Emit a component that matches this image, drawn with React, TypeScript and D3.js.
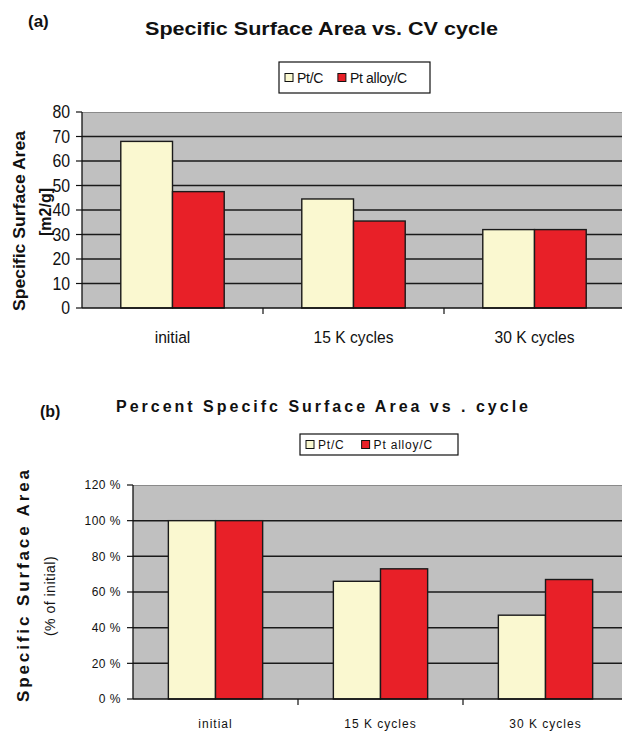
import * as d3 from "d3";

const categories = ["initial", "15 K cycles", "30 K cycles"];
const seriesNames = ["Pt/C", "Pt alloy/C"];
const seriesColors = ["#FAF8D0", "#E82028"];

// (a) specific surface area, m2/g
const areaPtC = [68, 44.5, 32];
const areaPtAlloy = [47.5, 35.5, 32];
const areaTicks = [0, 10, 20, 30, 40, 50, 60, 70, 80];

// (b) percent of initial
const pctPtC = [1.0, 0.66, 0.47];
const pctPtAlloy = [1.0, 0.73, 0.67];
const pctTicks = [0, 0.2, 0.4, 0.6, 0.8, 1.0, 1.2];

const FONT = "'Liberation Sans', Arial, sans-serif";

interface PanelProps {
  values: number[][];
  ticks: number[];
  yMax: number;
  left: number;
  right: number;
  top: number;
  bottom: number;
  tickFmt: (v: number) => string;
  tickSize: number;
  tickSpacing: number;
  tickSqueeze: number;
  xLabelY: number;
  xSize: number;
  xSpacing: number;
  xSqueeze: number;
}

function Panel(p: PanelProps) {
  const x = d3.scaleBand<string>().domain(categories).range([p.left, p.right]).padding(0);
  const xs = d3
    .scaleBand<string>()
    .domain(seriesNames)
    .range([0, x.bandwidth()])
    .paddingInner(0)
    .paddingOuter(0.75);
  const y = d3.scaleLinear().domain([0, p.yMax]).range([p.bottom, p.top]);

  return (
    <g>
      <rect x={p.left} y={p.top} width={622 - p.left} height={p.bottom - p.top} fill="#C0C0C0" />
      <line x1={p.left} x2={622} y1={p.top + 0.5} y2={p.top + 0.5} stroke="#8a8a8a" strokeWidth={1.2} />
      {p.ticks.slice(1, -1).map((t) => (
        <line key={t} x1={p.left} x2={622} y1={y(t)} y2={y(t)} stroke="#1a1a1a" strokeWidth={1.5} />
      ))}
      {categories.map((c, i) =>
        seriesNames.map((s, j) => (
          <rect
            key={c + s}
            x={(x(c) as number) + (xs(s) as number)}
            y={y(p.values[j][i])}
            width={xs.bandwidth()}
            height={p.bottom - y(p.values[j][i])}
            fill={seriesColors[j]}
            stroke="#1a1a1a"
            strokeWidth={1.4}
          />
        ))
      )}
      <line x1={p.left} x2={p.left} y1={p.top} y2={p.bottom} stroke="#111" strokeWidth={1.3} />
      <line x1={p.left} x2={622} y1={p.bottom} y2={p.bottom} stroke="#111" strokeWidth={1.3} />
      {p.ticks.map((t) => (
        <g key={t}>
          <line x1={p.left - 6} x2={p.left} y1={y(t)} y2={y(t)} stroke="#111" strokeWidth={1.2} />
          <text
            transform={`translate(${p.left - 12},${y(t)}) scale(${p.tickSqueeze},1)`}
            dy="0.36em"
            textAnchor="end"
            fontFamily={FONT}
            fontSize={p.tickSize}
            letterSpacing={p.tickSpacing}
            fill="#111"
          >
            {p.tickFmt(t)}
          </text>
        </g>
      ))}
      {categories.map((c, i) => (
        <g key={c}>
          {i > 0 && (
            <line x1={x(c)} x2={x(c)} y1={p.bottom} y2={p.bottom + 6} stroke="#111" strokeWidth={1.2} />
          )}
          <text
            transform={`translate(${(x(c) as number) + x.bandwidth() / 2},${p.xLabelY}) scale(${p.xSqueeze},1)`}
            dy="0.36em"
            textAnchor="middle"
            fontFamily={FONT}
            fontSize={p.xSize}
            letterSpacing={p.xSpacing}
            fill="#111"
          >
            {c}
          </text>
        </g>
      ))}
    </g>
  );
}

function Legend({ x0, y0, w, h, size, spacing }: { x0: number; y0: number; w: number; h: number; size: number; spacing: number }) {
  const cy = y0 + h / 2;
  const offsets = [6, 0.39 * w];
  return (
    <g>
      <rect x={x0} y={y0} width={w} height={h} fill="#fff" stroke="#111" strokeWidth={1.2} />
      {seriesNames.map((s, i) => (
        <g key={s}>
          <rect x={x0 + offsets[i]} y={cy - 4} width={8} height={8} fill={seriesColors[i]} stroke="#111" strokeWidth={1} />
          <text
            x={x0 + offsets[i] + 12}
            y={cy}
            dy="0.36em"
            fontFamily={FONT}
            fontSize={size}
            letterSpacing={spacing}
            fill="#111"
          >
            {s}
          </text>
        </g>
      ))}
    </g>
  );
}

export default function App() {
  return (
    <svg width={622} height={732} style={{ position: "absolute", left: 0, top: 0, background: "#fff" }}>
      {/* panel (a) */}
      <text x={28} y={27} fontFamily={FONT} fontWeight="bold" fontSize={17} fill="#111">(a)</text>
      <text x={145} y={35} fontFamily={FONT} fontWeight="bold" fontSize={19} textLength={353} lengthAdjust="spacingAndGlyphs" fill="#111">
        Specific Surface Area vs. CV cycle
      </text>
      <Legend x0={279} y0={62} w={151} h={31} size={14} spacing={-0.3} />
      <Panel
        values={[areaPtC, areaPtAlloy]}
        ticks={areaTicks}
        yMax={80}
        left={82}
        right={625}
        top={112}
        bottom={308}
        tickFmt={(v) => String(v)}
        tickSize={18}
        tickSpacing={0}
        tickSqueeze={0.88}
        xLabelY={337}
        xSize={17}
        xSpacing={0}
        xSqueeze={0.92}
      />
      <text
        transform="translate(25,221) rotate(-90)"
        textAnchor="middle"
        fontFamily={FONT}
        fontWeight="bold"
        fontSize={16}
        textLength={180}
        lengthAdjust="spacingAndGlyphs"
        fill="#111"
      >
        Specific Surface Area
      </text>
      <text
        transform="translate(51,212) rotate(-90)"
        textAnchor="middle"
        fontFamily={FONT}
        fontWeight="bold"
        fontSize={16}
        fill="#111"
      >
        [m2/g]
      </text>

      {/* panel (b) */}
      <text x={40} y={417} fontFamily={FONT} fontWeight="bold" fontSize={16} fill="#111">(b)</text>
      <text x={116} y={412} fontFamily={FONT} fontWeight="bold" fontSize={16} textLength={412} lengthAdjust="spacing" fill="#111">
        Percent Specifc Surface Area vs . cycle
      </text>
      <Legend x0={300} y0={434} w={158} h={21} size={12} spacing={0.8} />
      <Panel
        values={[pctPtC, pctPtAlloy]}
        ticks={pctTicks}
        yMax={1.2}
        left={133}
        right={628}
        top={485}
        bottom={699}
        tickFmt={(v) => `${Math.round(v * 100)} %`}
        tickSize={12}
        tickSpacing={0.5}
        tickSqueeze={1}
        xLabelY={724}
        xSize={12}
        xSpacing={1}
        xSqueeze={1}
      />
      <text
        transform="translate(29,586) rotate(-90)"
        textAnchor="middle"
        fontFamily={FONT}
        fontWeight="bold"
        fontSize={17}
        textLength={232}
        lengthAdjust="spacing"
        fill="#111"
      >
        Specific Surface Area
      </text>
      <text
        transform="translate(55,596) rotate(-90)"
        textAnchor="middle"
        fontFamily={FONT}
        fontSize={14}
        letterSpacing={0.5}
        fill="#111"
      >
        (% of initial)
      </text>
    </svg>
  );
}
